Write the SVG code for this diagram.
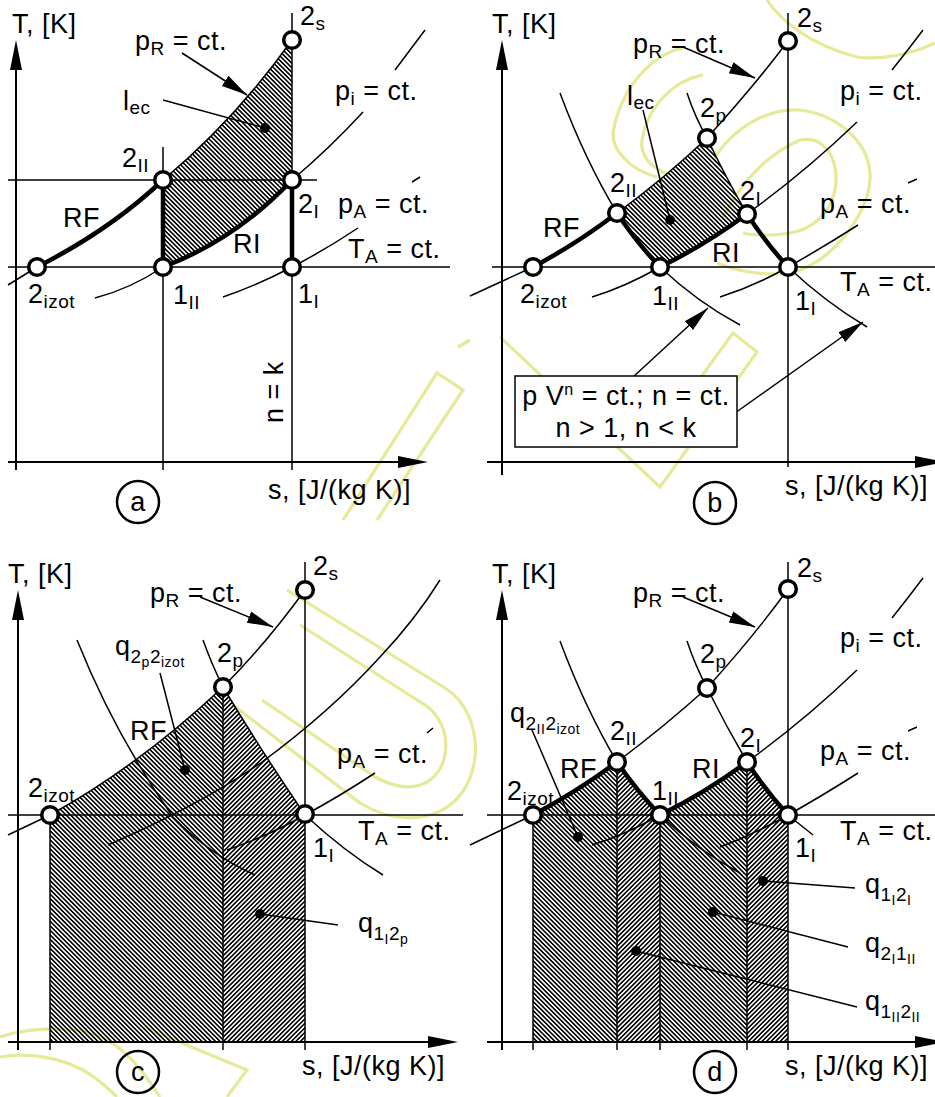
<svg xmlns="http://www.w3.org/2000/svg" width="935" height="1097" viewBox="0 0 935 1097">
<style>
.ax{stroke:#000;stroke-width:2;fill:none}
.th{stroke:#000;stroke-width:1.5;fill:none}
.tk{stroke:#000;stroke-width:4.5;fill:none;stroke-linejoin:round;stroke-linecap:round}
.pt{fill:#fff;stroke:#000;stroke-width:3.5}
.t{font-family:"Liberation Sans",Arial,Helvetica,sans-serif;font-size:27px;letter-spacing:0.5px;fill:#000}
.s{font-size:19px}
.ss{font-size:14px}
.dot{fill:#000}
.lc{fill:none;stroke:#000;stroke-width:2.5}
.hb{fill:url(#hb);stroke:none}
.hf{fill:url(#hf);stroke:none}
.ptr{stroke:#000;stroke-width:1.5;fill:none;marker-end:url(#ah)}
.wm{fill:none;stroke:#e6ea98;stroke-width:3.2}
</style>
<defs>
<pattern id="hb" patternUnits="userSpaceOnUse" width="3.2" height="3.2" patternTransform="rotate(-45)"><line x1="1.6" y1="-1" x2="1.6" y2="5" stroke="#000" stroke-width="1.6"/></pattern>
<pattern id="hf" patternUnits="userSpaceOnUse" width="3.2" height="3.2" patternTransform="rotate(45)"><line x1="1.6" y1="-1" x2="1.6" y2="5" stroke="#000" stroke-width="1.6"/></pattern>
<marker id="ah" markerUnits="userSpaceOnUse" markerWidth="28" markerHeight="14" refX="26" refY="7" orient="auto"><path d="M0,1 L26,7 L0,13 z" fill="#000"/></marker>
</defs>
<rect width="935" height="1097" fill="#fff"/>

<g id="watermark">
<path class="wm" d="M683,48 C650,55 620,90 613,133 C612,150 630,170 657,177"/>
<path class="wm" d="M703,75 C675,80 648,105 642,140 C640,155 650,168 670,175"/>
<path class="wm" d="M713,160 C735,125 770,108 800,110 C840,115 872,145 870,180 C868,215 830,265 790,273 C765,276 740,272 717,263"/>
<path class="wm" d="M723,217 C740,185 765,155 800,140 C825,135 840,160 835,190 C830,215 810,230 790,233 C770,236 755,236 743,233"/>
<path class="wm" d="M767,0 C780,20 810,45 857,57 C880,60 910,55 935,43"/>
<path class="wm" d="M500,337 L660,487 L757,352 L733,333 L650,447"/>
<path class="wm" d="M343,520 L437,373 L463,390 L377,520 M458,347 L470,340"/>
<path class="wm" d="M287,590 L445,688 C490,716 485,800 430,815 C405,822 380,815 360,803 L233,705"/>
<path class="wm" d="M300,625 L425,705 C455,725 452,775 420,785 C405,790 390,785 375,777 L262,700"/>
<path class="wm" d="M0,1037 C20,1030 60,1025 90,1033 C115,1040 135,1058 160,1097 M0,1057 C30,1052 60,1058 83,1070 C95,1077 108,1088 117,1097"/>
<path class="wm" d="M143,1027 L247,1070 L227,1097"/>
</g>

<!-- ================= PANEL A ================= -->
<g id="panel-a">
<g id="a-hatch"><path class="hb" d="M163,180 Q235,120 292,40 L292,180 Q235,240 163,267 Z"/></g>
<g id="a-connectors">
<path class="ax" d="M16,470 V66 M8,462 H400"/>
<path d="M16,40 L10,70 L22,70 Z M428,462 L398,456 L398,468 Z" fill="#000"/>
<path class="th" d="M163,147 V470 M292,13 V470 M8,180 H317 M8,267 H450"/>
<path class="th" d="M8,285 L37,267"/>
<path class="th" d="M163,180 Q235,120 292,40"/>
<path class="th" d="M292,180 Q330,148 363,112 M395,70 Q410,50 425,30"/>
<path class="th" d="M95,298 Q130,289 163,267"/>
<path class="th" d="M223,297 Q258,285 292,267 Q325,250 358,228 M412,182 L420,177"/>
<path class="tk" d="M37,267 Q110,230 163,180"/>
<path class="tk" d="M163,267 Q235,240 292,180"/>
<path class="tk" d="M163,180 V267 M292,180 V267"/>
<path class="ptr" d="M182,53 L247,95"/>
<path class="th" d="M163,100 L265,128"/>
<circle class="dot" cx="265" cy="128" r="5"/>
</g>
<g id="a-nodes">
<circle id="a-2s" class="pt" cx="292" cy="40" r="8.3"/>
<circle id="a-2II" class="pt" cx="163" cy="180" r="8.3"/>
<circle id="a-2I" class="pt" cx="292" cy="180" r="8.3"/>
<circle id="a-2izot" class="pt" cx="37" cy="267" r="8.3"/>
<circle id="a-1II" class="pt" cx="163" cy="267" r="8.3"/>
<circle id="a-1I" class="pt" cx="292" cy="267" r="8.3"/>
</g>
<g id="a-labels">
<text class="t" x="12" y="33">T, [K]</text>
<text class="t" x="135" y="50">p<tspan class="s" dy="5">R</tspan><tspan dy="-5"> = ct.</tspan></text>
<text class="t" x="300" y="25">2<tspan class="s" dy="5">s</tspan></text>
<text class="t" x="123" y="110">l<tspan class="s" dy="4">ec</tspan></text>
<text class="t" x="335" y="100">p<tspan class="s" dy="5">i</tspan><tspan dy="-5"> = ct.</tspan></text>
<text class="t" x="122" y="167">2<tspan class="s" dy="5">II</tspan></text>
<text class="t" x="63" y="227">RF</text>
<text class="t" x="298" y="213">2<tspan class="s" dy="5">I</tspan></text>
<text class="t" x="338" y="213">p<tspan class="s" dy="5">A</tspan><tspan dy="-5"> = ct.</tspan></text>
<text class="t" x="233" y="253">RI</text>
<text class="t" x="348" y="258">T<tspan class="s" dy="5">A</tspan><tspan dy="-5"> = ct.</tspan></text>
<text class="t" x="28" y="303">2<tspan class="s" dy="5">izot</tspan></text>
<text class="t" x="173" y="304">1<tspan class="s" dy="5">II</tspan></text>
<text class="t" x="298" y="303">1<tspan class="s" dy="5">I</tspan></text>
<text class="t" transform="translate(283,423) rotate(-90)">n = k</text>
<text class="t" x="268" y="499">s, [J/(kg K)]</text>
<circle class="lc" cx="138" cy="502" r="21"/>
<text class="t" x="138" y="511" text-anchor="middle">a</text>
</g>
</g>

<!-- ================= PANEL B ================= -->
<g id="panel-b">
<g id="b-hatch"><path class="hb" d="M617,213 Q665,178 707,138 Q726,178 747,214 Q705,245 660,267 Q637,243 617,213 Z"/></g>
<g id="b-connectors">
<path class="ax" d="M502,475 V66 M487,462 H915"/>
<path d="M502,40 L496,70 L508,70 Z M945,462 L915,456 L915,468 Z" fill="#000"/>
<path class="th" d="M788,13 V467 M492,267 H935"/>
<path class="th" d="M470,296 L533,267"/>
<path class="th" d="M617,213 Q665,178 707,138 Q755,85 788,41"/>
<path class="th" d="M560,93 Q585,160 617,213 Q637,243 660,267 Q697,302 740,325"/>
<path class="th" d="M687,93 Q695,117 707,138 Q726,178 747,214 Q766,243 788,267 Q825,302 867,327"/>
<path class="th" d="M592,297 Q625,287 660,267 M747,214 Q805,172 857,122 M892,70 Q908,50 923,30"/>
<path class="th" d="M720,297 Q755,286 788,267 Q822,248 858,225 M908,183 L917,179"/>
<path class="tk" d="M533,267 Q578,243 617,213 Q637,243 660,267 Q705,245 747,214 Q766,243 788,267"/>
<path class="ptr" d="M683,47 L755,78"/>
<path class="th" d="M643,110 L670,220"/>
<circle class="dot" cx="670" cy="220" r="5"/>
<path class="ptr" d="M633,377 L708,308"/>
<path class="ptr" d="M735,413 L863,322"/>
<rect x="515" y="376" width="222" height="71" fill="#fff" stroke="#000" stroke-width="1.5"/>
</g>
<g id="b-nodes">
<circle id="b-2s" class="pt" cx="788" cy="41" r="8.3"/>
<circle id="b-2p" class="pt" cx="707" cy="138" r="8.3"/>
<circle id="b-2II" class="pt" cx="617" cy="213" r="8.3"/>
<circle id="b-2I" class="pt" cx="747" cy="214" r="8.3"/>
<circle id="b-2izot" class="pt" cx="533" cy="267" r="8.3"/>
<circle id="b-1II" class="pt" cx="660" cy="267" r="8.3"/>
<circle id="b-1I" class="pt" cx="788" cy="267" r="8.3"/>
</g>
<g id="b-labels">
<text class="t" x="492" y="33">T, [K]</text>
<text class="t" x="633" y="53">p<tspan class="s" dy="5">R</tspan><tspan dy="-5"> = ct.</tspan></text>
<text class="t" x="797" y="27">2<tspan class="s" dy="5">s</tspan></text>
<text class="t" x="627" y="105">l<tspan class="s" dy="4">ec</tspan></text>
<text class="t" x="840" y="100">p<tspan class="s" dy="5">i</tspan><tspan dy="-5"> = ct.</tspan></text>
<text class="t" x="700" y="117">2<tspan class="s" dy="5">p</tspan></text>
<text class="t" x="610" y="192">2<tspan class="s" dy="5">II</tspan></text>
<text class="t" x="740" y="200">2<tspan class="s" dy="5">I</tspan></text>
<text class="t" x="543" y="237">RF</text>
<text class="t" x="820" y="213">p<tspan class="s" dy="5">A</tspan><tspan dy="-5"> = ct.</tspan></text>
<text class="t" x="712" y="262">RI</text>
<text class="t" x="840" y="291">T<tspan class="s" dy="5">A</tspan><tspan dy="-5"> = ct.</tspan></text>
<text class="t" x="520" y="303">2<tspan class="s" dy="5">izot</tspan></text>
<text class="t" x="652" y="305">1<tspan class="s" dy="5">II</tspan></text>
<text class="t" x="795" y="310">1<tspan class="s" dy="5">I</tspan></text>
<text class="t" x="626" y="405" text-anchor="middle">p V<tspan style="font-size:16px" dy="-10">n</tspan><tspan dy="10"> = ct.; n = ct.</tspan></text>
<text class="t" x="626" y="437" text-anchor="middle">n &gt; 1, n &lt; k</text>
<text class="t" x="785" y="495">s, [J/(kg K)]</text>
<circle class="lc" cx="715" cy="503" r="21"/>
<text class="t" x="715" y="512" text-anchor="middle">b</text>
</g>
</g>

<!-- ================= PANEL C ================= -->
<g id="panel-c">
<g id="c-hatch">
<path class="hb" d="M50,815 Q140,765 223,687 L223,1042 L50,1042 Z"/>
<path class="hf" d="M223,687 Q262,752 305,815 L305,1042 L223,1042 Z"/>
</g>
<g id="c-connectors">
<path class="ax" d="M18,1050 V616 M8,1042 H430"/>
<path d="M18,590 L12,620 L24,620 Z M458,1042 L428,1036 L428,1048 Z" fill="#000"/>
<path class="th" d="M50,815 V1050 M223,687 V1050 M305,562 V1050 M8,815 H463"/>
<path class="th" d="M8,835 L50,815 Q140,765 223,687 Q265,645 305,590"/>
<path class="th" d="M203,640 Q212,665 223,687 Q262,752 305,815 Q345,852 383,875"/>
<path class="th" d="M77,640 Q115,735 173,817 Q210,855 255,875"/>
<path class="th" d="M108,845 Q200,805 262,762 Q330,712 380,657 Q415,620 440,580"/>
<path class="th" d="M227,850 Q268,836 305,815 Q340,796 375,773 M427,733 L433,728"/>
<path class="ptr" d="M200,597 L273,627"/>
<path class="th" d="M160,673 L185,770"/>
<circle class="dot" cx="185" cy="770" r="5"/>
<path class="th" d="M260,914 L338,925"/>
<circle class="dot" cx="260" cy="914" r="5"/>
</g>
<g id="c-nodes">
<circle id="c-2s" class="pt" cx="305" cy="590" r="8.3"/>
<circle id="c-2p" class="pt" cx="223" cy="687" r="8.3"/>
<circle id="c-2izot" class="pt" cx="50" cy="815" r="8.3"/>
<circle id="c-1I" class="pt" cx="305" cy="814" r="8.3"/>
</g>
<g id="c-labels">
<text class="t" x="8" y="583">T, [K]</text>
<text class="t" x="150" y="602">p<tspan class="s" dy="5">R</tspan><tspan dy="-5"> = ct.</tspan></text>
<text class="t" x="313" y="575">2<tspan class="s" dy="5">s</tspan></text>
<text class="t" x="115" y="655">q<tspan class="s" dy="8">2</tspan><tspan class="ss" dy="4">p</tspan><tspan class="s" dy="-4">2</tspan><tspan class="ss" dy="4">izot</tspan></text>
<text class="t" x="217" y="662">2<tspan class="s" dy="5">p</tspan></text>
<text class="t" x="130" y="740">RF</text>
<text class="t" x="28" y="797">2<tspan class="s" dy="5">izot</tspan></text>
<text class="t" x="337" y="763">p<tspan class="s" dy="5">A</tspan><tspan dy="-5"> = ct.</tspan></text>
<text class="t" x="358" y="840">T<tspan class="s" dy="5">A</tspan><tspan dy="-5"> = ct.</tspan></text>
<text class="t" x="313" y="857">1<tspan class="s" dy="5">I</tspan></text>
<text class="t" x="358" y="932">q<tspan class="s" dy="8">1</tspan><tspan class="ss" dy="4">I</tspan><tspan class="s" dy="-4">2</tspan><tspan class="ss" dy="4">p</tspan></text>
<text class="t" x="302" y="1075">s, [J/(kg K)]</text>
<circle class="lc" cx="138" cy="1072" r="21"/>
<text class="t" x="138" y="1081" text-anchor="middle">c</text>
</g>
</g>

<!-- ================= PANEL D ================= -->
<g id="panel-d">
<g id="d-hatch">
<path class="hb" d="M533,815 Q578,791 617,762 L617,1042 L533,1042 Z"/>
<path class="hf" d="M617,762 Q637,791 660,815 L660,1042 L617,1042 Z"/>
<path class="hb" d="M660,815 Q705,793 747,762 L747,1042 L660,1042 Z"/>
<path class="hf" d="M747,762 Q766,791 788,815 L788,1042 L747,1042 Z"/>
</g>
<g id="d-connectors">
<path class="ax" d="M502,1050 V616 M487,1042 H915"/>
<path d="M502,590 L496,620 L508,620 Z M945,1042 L915,1036 L915,1048 Z" fill="#000"/>
<path class="th" d="M533,815 V1050 M617,762 V1050 M660,815 V1050 M747,762 V1050 M788,562 V1050 M487,815 H935"/>
<path class="th" d="M470,845 L533,815"/>
<path class="th" d="M617,762 Q665,726 707,688 Q755,635 788,589"/>
<path class="th" d="M560,641 Q585,708 617,762 M660,815 Q697,850 740,873"/>
<path class="th" d="M687,641 Q695,665 707,688 Q726,726 747,762 M788,815 L813,835"/>
<path class="th" d="M592,845 Q625,835 660,815 M747,762 Q805,720 857,670 M892,618 Q908,598 923,578"/>
<path class="th" d="M720,847 Q755,834 788,815 Q822,796 858,773 M908,731 L917,727"/>
<path class="tk" d="M533,815 Q578,791 617,762 Q637,791 660,815 Q705,793 747,762 Q766,791 788,815"/>
<path class="ptr" d="M683,597 L755,627"/>
<path class="th" d="M532,730 L578,837"/>
<circle class="dot" cx="578" cy="837" r="5"/>
<path class="th" d="M763,881 L855,888"/>
<circle class="dot" cx="763" cy="881" r="5"/>
<path class="th" d="M713,912 L848,947"/>
<circle class="dot" cx="713" cy="912" r="5"/>
<path class="th" d="M636,951 L857,1007"/>
<circle class="dot" cx="636" cy="951" r="5"/>
</g>
<g id="d-nodes">
<circle id="d-2s" class="pt" cx="788" cy="589" r="8.3"/>
<circle id="d-2p" class="pt" cx="707" cy="688" r="8.3"/>
<circle id="d-2II" class="pt" cx="617" cy="762" r="8.3"/>
<circle id="d-2I" class="pt" cx="747" cy="762" r="8.3"/>
<circle id="d-2izot" class="pt" cx="533" cy="815" r="8.3"/>
<circle id="d-1II" class="pt" cx="660" cy="815" r="8.3"/>
<circle id="d-1I" class="pt" cx="788" cy="815" r="8.3"/>
</g>
<g id="d-labels">
<text class="t" x="492" y="583">T, [K]</text>
<text class="t" x="633" y="602">p<tspan class="s" dy="5">R</tspan><tspan dy="-5"> = ct.</tspan></text>
<text class="t" x="797" y="577">2<tspan class="s" dy="5">s</tspan></text>
<text class="t" x="840" y="647">p<tspan class="s" dy="5">i</tspan><tspan dy="-5"> = ct.</tspan></text>
<text class="t" x="700" y="663">2<tspan class="s" dy="5">p</tspan></text>
<text class="t" x="510" y="722">q<tspan class="s" dy="8">2</tspan><tspan class="ss" dy="4">II</tspan><tspan class="s" dy="-4">2</tspan><tspan class="ss" dy="4">izot</tspan></text>
<text class="t" x="610" y="740">2<tspan class="s" dy="5">II</tspan></text>
<text class="t" x="740" y="747">2<tspan class="s" dy="5">I</tspan></text>
<text class="t" x="820" y="760">p<tspan class="s" dy="5">A</tspan><tspan dy="-5"> = ct.</tspan></text>
<text class="t" x="560" y="778">RF</text>
<text class="t" x="692" y="778">RI</text>
<text class="t" x="507" y="800">2<tspan class="s" dy="5">izot</tspan></text>
<text class="t" x="652" y="800">1<tspan class="s" dy="5">II</tspan></text>
<text class="t" x="840" y="840">T<tspan class="s" dy="5">A</tspan><tspan dy="-5"> = ct.</tspan></text>
<text class="t" x="795" y="857">1<tspan class="s" dy="5">I</tspan></text>
<text class="t" x="865" y="893">q<tspan class="s" dy="8">1</tspan><tspan class="ss" dy="4">I</tspan><tspan class="s" dy="-4">2</tspan><tspan class="ss" dy="4">I</tspan></text>
<text class="t" x="865" y="952">q<tspan class="s" dy="8">2</tspan><tspan class="ss" dy="4">I</tspan><tspan class="s" dy="-4">1</tspan><tspan class="ss" dy="4">II</tspan></text>
<text class="t" x="865" y="1010">q<tspan class="s" dy="8">1</tspan><tspan class="ss" dy="4">II</tspan><tspan class="s" dy="-4">2</tspan><tspan class="ss" dy="4">II</tspan></text>
<text class="t" x="785" y="1075">s, [J/(kg K)]</text>
<circle class="lc" cx="715" cy="1072" r="21"/>
<text class="t" x="715" y="1081" text-anchor="middle">d</text>
</g>
</g>
</svg>
